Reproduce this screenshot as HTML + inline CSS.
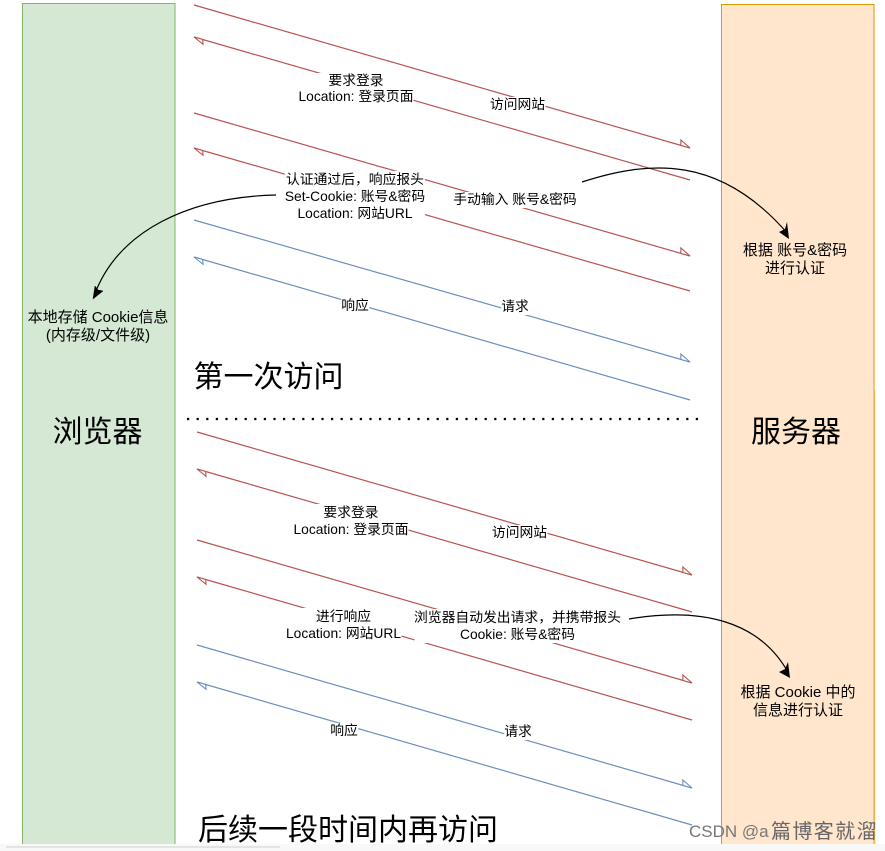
<!DOCTYPE html>
<html>
<head>
<meta charset="utf-8">
<style>
html,body{margin:0;padding:0;background:#fff;}
#c{position:relative;width:885px;height:851px;overflow:hidden;background:#fff;font-family:"Liberation Sans","Noto Sans CJK SC",sans-serif;color:#000;}
svg{position:absolute;left:0;top:0;}
.l{position:absolute;transform:translateX(-50%);text-align:center;font-size:13.8px;line-height:16px;white-space:nowrap;}
.w{background:#fff;}
.n{font-size:15px;line-height:18px;}
.b{position:absolute;font-size:30px;line-height:36px;white-space:nowrap;}
</style>
</head>
<body>
<div id="c">
<svg width="885" height="851" viewBox="0 0 885 851">
<defs>
<marker id="ar" viewBox="0 0 14 14" refX="12" refY="8" markerWidth="14" markerHeight="14" markerUnits="userSpaceOnUse" orient="auto"><path d="M12 8L1 2.8L2.5 8Z" fill="#fff" stroke="#b85450" stroke-width="1.1"/></marker>
<marker id="as" viewBox="0 0 14 14" refX="1" refY="5" markerWidth="14" markerHeight="14" markerUnits="userSpaceOnUse" orient="auto"><path d="M1 5L11.7 9.5L10 5Z" fill="#fff" stroke="#b85450" stroke-width="1.1"/></marker>
<marker id="br" viewBox="0 0 14 14" refX="12" refY="8" markerWidth="14" markerHeight="14" markerUnits="userSpaceOnUse" orient="auto"><path d="M12 8L1 2.8L2.5 8Z" fill="#fff" stroke="#6c8ebf" stroke-width="1.1"/></marker>
<marker id="bs" viewBox="0 0 14 14" refX="1" refY="5" markerWidth="14" markerHeight="14" markerUnits="userSpaceOnUse" orient="auto"><path d="M1 5L11.7 9.5L10 5Z" fill="#fff" stroke="#6c8ebf" stroke-width="1.1"/></marker>
</defs>
<rect x="22.5" y="3.5" width="152.5" height="842" fill="#d5e8d4" stroke="#82b366"/>
<rect x="721.5" y="4.5" width="152.5" height="841" fill="#ffe6cc" stroke="#d79b00"/>
<line x1="874.5" y1="390" x2="874.5" y2="844" stroke="#e6b84f" stroke-width="1.5"/>
<g fill="none" stroke-width="1.2">
<g stroke="#b85450">
<line x1="194" y1="5" x2="690" y2="148" marker-end="url(#ar)"/>
<line x1="194" y1="37" x2="690" y2="180" marker-start="url(#as)"/>
<line x1="194" y1="113" x2="690" y2="256" marker-end="url(#ar)"/>
<line x1="194" y1="148" x2="690" y2="291" marker-start="url(#as)"/>
<line x1="197" y1="432" x2="692" y2="575" marker-end="url(#ar)"/>
<line x1="197" y1="469" x2="692" y2="612" marker-start="url(#as)"/>
<line x1="197" y1="540" x2="692" y2="683" marker-end="url(#ar)"/>
<line x1="197" y1="577" x2="692" y2="720" marker-start="url(#as)"/>
</g>
<g stroke="#6c8ebf">
<line x1="194" y1="220" x2="690" y2="362" marker-end="url(#br)"/>
<line x1="194" y1="257" x2="690" y2="400" marker-start="url(#bs)"/>
<line x1="197" y1="645" x2="692" y2="788" marker-end="url(#br)"/>
<line x1="197" y1="682" x2="692" y2="825" marker-start="url(#bs)"/>
</g>
</g>
<line x1="187" y1="419" x2="700" y2="419" stroke="#000" stroke-width="2.2" stroke-dasharray="2.2 7.4"/>
<g fill="none" stroke="#000" stroke-width="1.2">
<path d="M582 182C650 160 720 155 788 234"/>
<path d="M276 195C190 197 118 230 94 296"/>
<path d="M629 619C700 607 760 620 789 674"/>
</g>
<path d="M789 239L779 232L785 229L787 222Z" fill="#000"/>
<path d="M93 299L95 286L98 290L103 291Z" fill="#000" stroke="#000" stroke-width=".5"/>
<path d="M790 678L779 672L785 669L788 662Z" fill="#000"/>
</svg>

<div class="l" style="left:517.5px;top:97px;background:#fff;">访问网站</div>
<div class="l w" style="left:356px;top:73px;">要求登录<br>Location: 登录页面</div>
<div class="l w" style="left:515px;top:192px;">手动输入 账号&amp;密码</div>
<div class="l w" style="left:355px;top:171px;line-height:17px;">认证通过后，响应报头<br>Set-Cookie: 账号&amp;密码<br>Location: 网站URL</div>
<div class="l w" style="left:355px;top:298px;">响应</div>
<div class="l w" style="left:515px;top:299px;">请求</div>
<div class="l n" style="left:98px;top:309px;">本地存储 Cookie信息<br>(内存级/文件级)</div>
<div class="l n" style="left:795px;top:242px;">根据 账号&amp;密码<br>进行认证</div>
<div class="b" style="left:193.5px;top:360px;">第一次访问</div>
<div class="b" style="left:52.5px;top:415px;">浏览器</div>
<div class="b" style="left:751px;top:415px;">服务器</div>

<div class="l w" style="left:519.5px;top:525px;">访问网站</div>
<div class="l w" style="left:351px;top:504px;line-height:17px;">要求登录<br>Location: 登录页面</div>
<div class="l w" style="left:343.5px;top:608px;line-height:17px;">进行响应<br>Location: 网站URL</div>
<div class="l w" style="left:517.5px;top:609px;line-height:17px;">浏览器自动发出请求，并携带报头<br>Cookie: 账号&amp;密码</div>
<div class="l w" style="left:344px;top:723px;">响应</div>
<div class="l w" style="left:518px;top:724px;">请求</div>
<div class="l n" style="left:798px;top:684px;">根据 Cookie 中的<br>信息进行认证</div>
<div class="b" style="left:198px;top:813px;">后续一段时间内再访问</div>

<div style="position:absolute;left:0;top:844px;width:885px;height:7px;background:#f8f8f8;"></div>
<div style="position:absolute;left:6px;top:846px;width:274px;height:2px;background:#e4e4e4;"></div>

<div style="position:absolute;left:689px;top:822px;font-size:17px;line-height:20px;color:#777;white-space:nowrap;">CSDN @a</div>
<div style="position:absolute;left:771px;top:822px;font-size:20px;letter-spacing:1.4px;line-height:20px;color:#666;white-space:nowrap;">篇博客就溜</div>
</div>
</body>
</html>
